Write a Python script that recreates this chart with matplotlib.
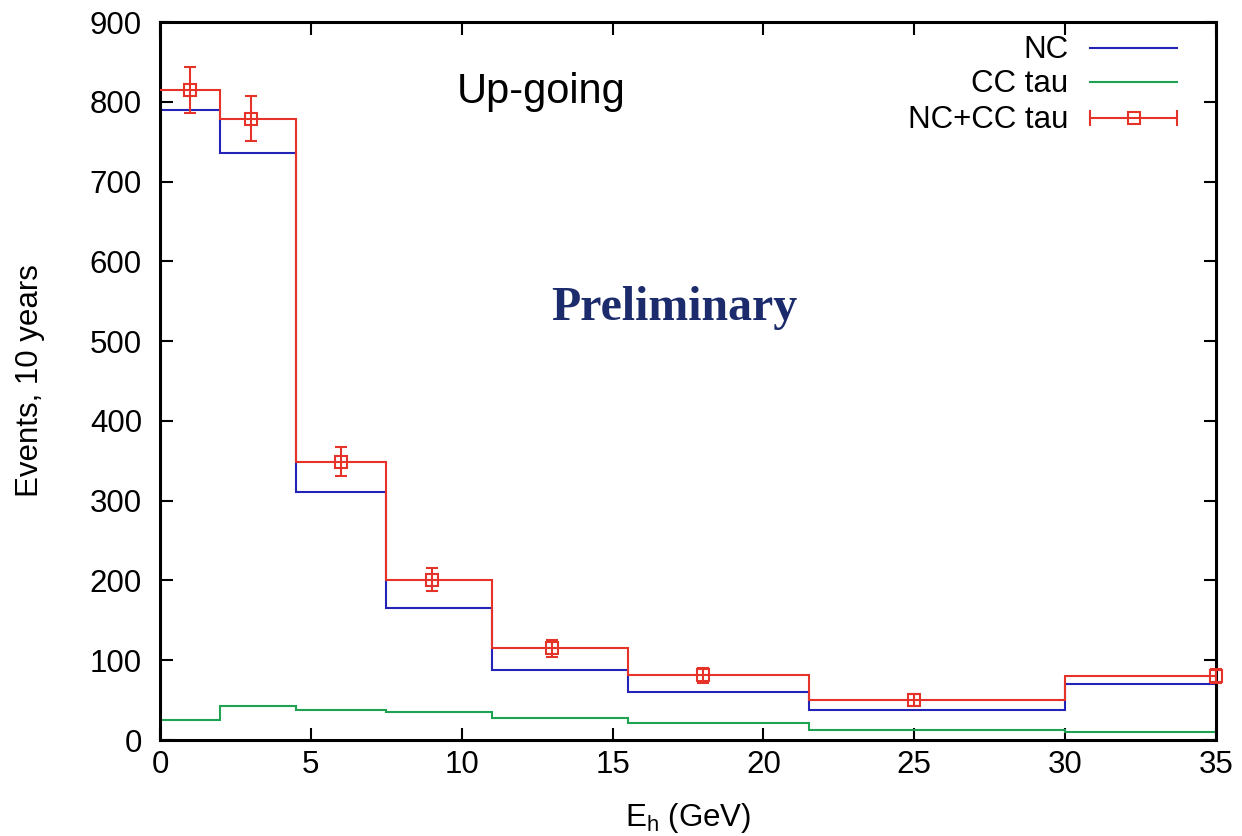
import numpy as np
import matplotlib
matplotlib.use("Agg")
import matplotlib.pyplot as plt

# Energy bins (GeV) and expected event counts per bin over 10 years
bin_edges = [0, 2, 4.5, 7.5, 11, 15.5, 21.5, 30, 35]
nc_events = [790, 736, 311, 166, 88, 60, 38, 70]
cc_tau_events = [25, 43, 38, 35, 27, 21, 12, 10]
point_x = [1, 3, 6, 9, 13, 18, 25, 35]

x_ticks = [0, 5, 10, 15, 20, 25, 30, 35]
y_ticks = [0, 100, 200, 300, 400, 500, 600, 700, 800, 900]

total_events = np.array(nc_events) + np.array(cc_tau_events)
total_err = np.sqrt(total_events)

blue = "#2323b8"
green = "#1fa352"
red = "#e6332a"
sans = ["Liberation Sans", "DejaVu Sans"]
fs = 22.5

plt.rcParams["font.family"] = sans
plt.rcParams["mathtext.fontset"] = "custom"
plt.rcParams["mathtext.rm"] = "Liberation Sans"
plt.rcParams["mathtext.it"] = "Liberation Sans"

fig = plt.figure(figsize=(12.42, 8.36), dpi=100)
ax = fig.add_axes([160 / 1242, 1 - 740 / 836, 1056 / 1242, 718 / 836])

ax.stairs(nc_events, bin_edges, baseline=None, color=blue, lw=1.5, zorder=2)
ax.stairs(cc_tau_events, bin_edges, baseline=None, color=green, lw=1.5, zorder=2)
ax.stairs(total_events, bin_edges, baseline=None, color=red, lw=1.5, zorder=3)
ax.errorbar(point_x, total_events, yerr=total_err, fmt="s", color=red,
            mfc="none", mec=red, ms=8.5, mew=1.5, elinewidth=1.5,
            capsize=4.5, capthick=1.5, zorder=4, clip_on=False)

ax.set_xlim(0, 35)
ax.set_ylim(0, 900)
ax.set_xticks(x_ticks)
ax.set_yticks(y_ticks)
ax.tick_params(direction="in", length=9, width=1.5, labelsize=fs,
               top=True, right=True)
ax.tick_params(axis="y", pad=13)
ax.tick_params(axis="x", pad=7)
for s in ax.spines.values():
    s.set_linewidth(2.2)

ax.set_xlabel(r"E$_{\mathrm{h}}$ (GeV)", fontsize=fs)
ax.set_ylabel("Events, 10 years", fontsize=fs)
ax.xaxis.set_label_coords(0.5, (740 - 801) / 718)
ax.yaxis.set_label_coords((45 - 160) / 1056, 0.5)

ax.text((457 - 160) / 1056, (740 - 92) / 718, "Up-going", transform=ax.transAxes,
        fontsize=30, ha="left", va="center")
ax.text((551 - 160) / 1056, (740 - 308) / 718, "Preliminary", transform=ax.transAxes,
        fontsize=34.5, fontweight="bold", family=["Liberation Serif", "DejaVu Serif"],
        color="#1b2b6b", ha="left", va="center")

# Key in the upper right corner
tx = (1068 - 160) / 1056
lx0 = (1090 - 160) / 1056
lx1 = (1177 - 160) / 1056
lxm = (1134 - 160) / 1056
rows = [(0.9610, "NC", blue), (0.9136, "CC tau", green), (0.8635, "NC+CC tau", red)]
for yy, label, col in rows:
    ax.text(tx, yy, label, transform=ax.transAxes, fontsize=fs,
            ha="right", va="center")
for (yy, label, col), ly in zip(rows, [0.9638, 0.9164, 0.8663]):
    ax.plot([lx0, lx1], [ly, ly], color=col, lw=1.5, transform=ax.transAxes)
ly = 0.8663
ax.plot([lx0, lx1], [ly, ly], ls="none", marker="|", ms=12, mew=1.5,
        color=red, transform=ax.transAxes)
ax.plot([lxm], [ly], ls="none", marker="s", ms=8.5, mew=1.5, mfc="none",
        mec=red, transform=ax.transAxes)

fig.savefig("out.png", dpi=100)
